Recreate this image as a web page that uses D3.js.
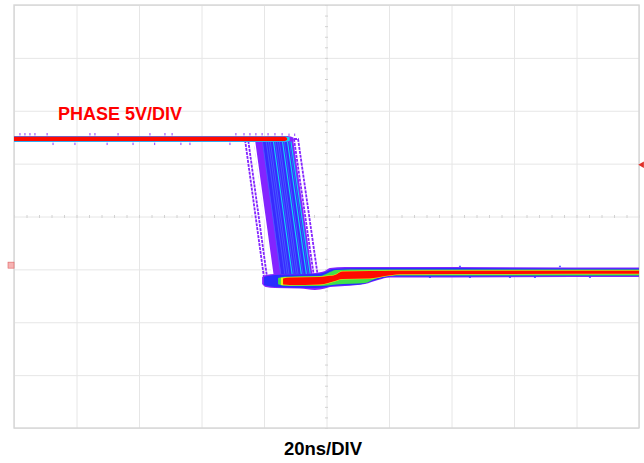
<!DOCTYPE html>
<html><head><meta charset="utf-8">
<script src="https://cdn.jsdelivr.net/npm/d3@7"></script>
<style>body{margin:0;background:#fff}svg{display:block}</style>
</head><body>
<svg id="c" width="644" height="463"></svg>
<script>
// ---------- axes (20 ns/div horizontally, 5 V/div vertically) ----------
const timeDomainNs = [-100, 100];          // 10 divisions
const voltDomain = [-15.4, 24.6];          // 8 divisions, ground 0.92 div below centre
const xDivTicks = [-5,-4,-3,-2,-1,0,1,2,3,4,5];
const yDivTicks = [-4,-3,-2,-1,0,1,2,3,4];
const channelLabel = "PHASE 5V/DIV";
const timebaseLabel = "20ns/DIV";
const groundLevelV = 0;
const triggerLevelV = 9.5;

// ---------- individual falling-edge traces (persistence) ----------
const traceEdgeStartNs = [-26.1,-25.1,-23.2,-22.6,-21.9,-21.3,-20.6,-20.0,-19.4,-18.7,-18.1,-17.1,-16.5,-15.8,-15.2,-14.2,-13.6,-12.6,-12.0,-11.5,-11.0,-10.4,-9.1];
const traceEdgeEndNs   = [-19.8,-18.8,-16.9,-16.3,-15.6,-15.0,-14.3,-13.6,-13.0,-12.3,-11.7,-10.7,-10.1,-9.4,-8.8,-7.8,-7.2,-6.2,-5.6,-5.0,-4.6,-4.0,-2.8];
const traceLowV        = [-1.6,-1.65,-1.6,-1.6,-1.55,-1.6,-1.6,-1.55,-1.6,-1.5,-1.55,-1.5,-1.5,-1.45,-1.5,-1.4,-1.45,-1.35,-1.3,-1.3,-1.2,-1.1,-1.0];
const traceHits        = [1,1,0,2,2,2,3,2,3,3,3,5,3,3,3,5,3,5,3,5,2,1,1];
const highLevelV = 11.93;

// ---------- dense part of the falling edge: corner points [t ns, V] ----------
const edgeDensePurple = [[-23.4,11.93],[-10.7,11.93],[-4.3,-1.3],[-17.1,-1.3]];
const edgeDenseBlue   = [[-20.6,11.93],[-11.3,11.93],[-5.0,-1.3],[-14.3,-1.3]];

// ---------- persistence bands: [t ns, upper V, lower V] ----------
const topPurple = [[-100,12.21,11.64],[-13.5,12.21,11.64],[-11.5,12.17,11.68],[-10.5,12.05,11.8]];
const topCyan   = [[-100,12.17,11.68],[-13,12.17,11.68],[-11.8,12.1,11.74]];
const topRed    = [[-100,12.13,11.74],[-13.4,12.13,11.74],[-12.6,12.0,11.86]];

const lowPurple = [[-20.6,-1.12,-1.78],[-19.4,-0.93,-2.07],[-16.5,-0.84,-2.16],[-8.5,-0.84,-2.21],[-3.7,-0.74,-2.35],[-0.5,-0.55,-2.21],[1.1,-0.27,-2.07],[5.9,-0.18,-1.97],[12.3,-0.18,-1.78],[16.5,-0.18,-1.40],[20.3,-0.18,-1.17],[100,-0.22,-1.12]];
const lowBlue   = [[-20.0,-1.12,-1.88],[-16.5,-0.93,-2.07],[-3.7,-0.84,-2.16],[-0.2,-0.65,-2.07],[1.8,-0.37,-1.97],[10.7,-0.27,-1.83],[15.8,-0.27,-1.40],[20.9,-0.27,-1.08],[100,-0.32,-1.03]];
const lowGreen  = [[-15.5,-1.22,-1.80],[-13.5,-1.10,-1.95],[-2.1,-1.03,-1.97],[0.5,-0.74,-1.92],[3.0,-0.46,-1.83],[12.3,-0.42,-1.69],[15.5,-0.42,-1.31],[21.9,-0.42,-0.98],[100,-0.42,-0.98]];
const lowYellow = [[-14.6,-1.20,-1.88],[-11.7,-1.12,-1.92],[-2.1,-1.07,-1.88],[0.5,-0.98,-1.74],[2.7,-0.88,-1.55],[5.0,-0.55,-1.36],[13.9,-0.50,-1.31],[18.7,-0.50,-1.08],[23.5,-0.48,-0.90],[100,-0.48,-0.87]];
const lowRed    = [[-13.9,-1.26,-1.83],[-11.7,-1.17,-1.88],[-2.1,-1.12,-1.83],[0.5,-1.03,-1.69],[2.7,-0.93,-1.50],[5.0,-0.60,-1.31],[13.9,-0.55,-1.26],[18.7,-0.55,-1.03],[23.5,-0.53,-0.86],[100,-0.53,-0.82]];

// ---------- isolated hits around the bands: [t ns, V] ----------
const specksAbove = [[-98.1,12.38],[-96.5,12.38],[-94.9,12.38],[-93.3,12.38],[-89.4,12.38],[-75.7,12.38],[-74.1,12.38],[-66.7,12.38],[-56.5,12.38],[-51.7,12.38],[-49.4,12.38],[-29.0,12.38],[-26.4,12.38],[-24.5,12.38],[-22.6,12.38],[-20.6,12.38],[-18.7,12.38],[-16.5,12.38],[-14.2,12.38],[-12.0,12.33],[-10.2,12.33]];
const specksBelow = [[-87.5,11.47],[-80.5,11.47],[-70.2,11.47],[-61.9,11.47],[-55.0,11.47],[-46.6,11.47],[-43.7,11.47],[-30.9,11.47]];
const specksLow = [[33.1,-1.15],[45.9,-1.15],[58.7,-1.15],[66.7,-1.15],[84.3,-1.15],[42.7,-0.12],[74.7,-0.12]];

// ---------- drawing ----------
const svg = d3.select("#c");
const plot = {l:14, t:5, r:639, b:428};
const xT = d3.scaleLinear().domain(timeDomainNs).range([plot.l, plot.r]);
const yV = d3.scaleLinear().domain(voltDomain).range([plot.b, plot.t]);
const xDiv = d3.scaleLinear().domain([-5,5]).range([plot.l, plot.r]);
const yDiv = d3.scaleLinear().domain([-4,4]).range([plot.b, plot.t]);
const gridColor = "#e6e6e6";
const C = {purple:"#8424ff", blue:"#2a2cff", cyan:"#10d8f0", green:"#3fe04a", yellow:"#f2ee1a", red:"#ff0a00"};

// grid
svg.append("g").attr("transform",`translate(0,${plot.b})`)
  .call(d3.axisBottom(xDiv).tickValues(xDivTicks).tickSize(-(plot.b-plot.t)).tickFormat(""))
  .call(g=>{g.select(".domain").remove(); g.selectAll("line").attr("stroke",gridColor).attr("stroke-width",1);});
svg.append("g").attr("transform",`translate(${plot.l},0)`)
  .call(d3.axisLeft(yDiv).tickValues(yDivTicks).tickSize(-(plot.r-plot.l)).tickFormat(""))
  .call(g=>{g.select(".domain").remove(); g.selectAll("line").attr("stroke",gridColor).attr("stroke-width",1);});
// minor ticks on centre crosshair
svg.append("g").attr("transform",`translate(0,${yDiv(0)-1.5})`)
  .call(d3.axisBottom(xDiv).tickValues(xDiv.ticks(50)).tickSize(3).tickFormat(""))
  .call(g=>{g.select(".domain").remove(); g.selectAll("line").attr("stroke","#d2d2d2");});
svg.append("g").attr("transform",`translate(${xDiv(0)+1.5},0)`)
  .call(d3.axisLeft(yDiv).tickValues(yDiv.ticks(40)).tickSize(3).tickFormat(""))
  .call(g=>{g.select(".domain").remove(); g.selectAll("line").attr("stroke","#d2d2d2");});
// frame
svg.append("rect").attr("x",plot.l).attr("y",plot.t).attr("width",plot.r-plot.l).attr("height",plot.b-plot.t)
  .attr("fill","none").attr("stroke","#d6d6d6").attr("stroke-width",1.4);

const line = d3.line().x(d=>xT(d[0])).y(d=>yV(d[1]));

// dense edge regions (closed polygons)
const poly = d3.line().x(d=>xT(d[0])).y(d=>yV(d[1])).curve(d3.curveLinearClosed);
svg.append("path").attr("d",poly(edgeDensePurple)).attr("fill",C.purple);
svg.append("path").attr("d",poly(edgeDenseBlue)).attr("fill",C.blue).attr("opacity",0.85);

// traces
const hitColor = d3.scaleThreshold().domain([1,2,3,5]).range(["#ffffff", C.purple, "#a070ff", "#4a5cff", C.cyan]);
const traces = traceEdgeStartNs.map((ts,i)=>({hits:traceHits[i], pts:[[timeDomainNs[0],highLevelV],[ts,highLevelV],[traceEdgeEndNs[i],traceLowV[i]],[0,traceLowV[i]]]}));
const order = d3.range(traces.length).sort((a,b)=>traces[a].hits-traces[b].hits);
svg.append("g").selectAll("path").data(order.map(i=>traces[i]).filter(d=>d.hits!==2)).join("path")
  .attr("d",d=>line(d.pts)).attr("fill","none")
  .attr("stroke",d=>hitColor(d.hits)).attr("stroke-width",d=>d.hits>=5?1.1:(d.hits<=1?1.8:0.9))
  .attr("stroke-dasharray",d=>d.hits===1?"3 1":null)
  .attr("stroke-linejoin","round");

// bands
const area = d3.area().x(d=>xT(d[0])).y0(d=>yV(d[2])).y1(d=>yV(d[1])).curve(d3.curveMonotoneX);
const bands = [[lowPurple,C.purple],[lowBlue,C.blue],[lowGreen,C.green],[lowYellow,C.yellow],[lowRed,C.red],
               [topPurple,C.purple],[topCyan,C.cyan],[topRed,C.red]];
svg.append("g").selectAll("path").data(bands).join("path")
  .attr("d",d=>area(d[0])).attr("fill",d=>d[1]);

// specks
const specks = svg.append("g").attr("opacity",0.75);
specks.selectAll("rect.a").data(specksAbove.concat(specksBelow)).join("rect").attr("class","a")
  .attr("x",d=>xT(d[0])-0.6).attr("y",d=>yV(d[1])-1.2).attr("width",1.2).attr("height",2.4).attr("fill",C.purple);
specks.selectAll("rect.l").data(specksLow).join("rect").attr("class","l")
  .attr("x",d=>xT(d[0])-1).attr("y",d=>yV(d[1])-0.7).attr("width",2).attr("height",1.4).attr("fill",C.blue);

// ground marker (left) and trigger marker (right)
svg.append("rect").attr("x",plot.l-6).attr("y",yV(groundLevelV)-3).attr("width",6).attr("height",6)
  .attr("fill","#f6b3b3").attr("stroke","#e06060").attr("stroke-width",0.6);
svg.append("path").attr("d",d3.symbol(d3.symbolTriangle,18)())
  .attr("transform",`translate(${plot.r+3},${yV(triggerLevelV)}) rotate(-90)`).attr("fill","#e0302a");

// labels
svg.append("text").attr("x",58).attr("y",120).text(channelLabel)
  .attr("font-family","Liberation Sans, Arial, sans-serif").attr("font-weight","bold").attr("font-size",18).attr("fill","#ff0000");
svg.append("text").attr("x",323).attr("y",455).attr("text-anchor","middle").text(timebaseLabel)
  .attr("font-family","Liberation Sans, Arial, sans-serif").attr("font-weight","bold").attr("font-size",18.5).attr("fill","#000");
</script>
</body></html>
